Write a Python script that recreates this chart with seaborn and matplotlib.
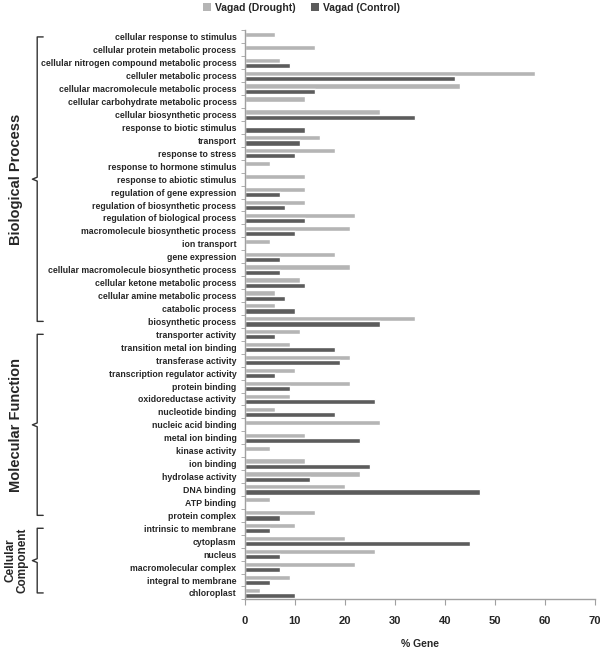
import numpy as np
import pandas as pd
import seaborn as sns
import matplotlib.pyplot as plt
import matplotlib.transforms as mtransforms
from matplotlib.patches import Patch

terms = [
    'cellular response to stimulus', 'cellular protein metabolic process',
    'cellular nitrogen compound metabolic process', 'celluler metabolic process',
    'cellular macromolecule metabolic process', 'cellular carbohydrate metabolic process',
    'cellular biosynthetic process', 'response to biotic stimulus', 'transport',
    'response to stress', 'response to hormone stimulus', 'response to abiotic stimulus',
    'regulation of gene expression', 'regulation of biosynthetic process',
    'regulation of biological process', 'macromolecule biosynthetic process',
    'ion transport', 'gene expression', 'cellular macromolecule biosynthetic process',
    'cellular ketone metabolic process', 'cellular amine metabolic process',
    'catabolic process', 'biosynthetic process',
    'transporter activity', 'transition metal ion binding', 'transferase activity',
    'transcription regulator activity', 'protein binding', 'oxidoreductase activity',
    'nucleotide binding', 'nucleic acid binding', 'metal ion binding', 'kinase activity',
    'ion binding', 'hydrolase activity', 'DNA binding', 'ATP binding', 'protein complex',
    'intrinsic to membrane', 'cytoplasm', 'nucleus', 'macromolecular complex',
    'integral to membrane', 'chloroplast',
]
drought = [6, 14, 7, 58, 43, 12, 27, 0, 15, 18, 5, 12, 12, 12, 22, 21, 5, 18, 21, 11, 6, 6, 34,
           11, 9, 21, 10, 21, 9, 6, 27, 12, 5, 12, 23, 20, 5, 14,
           10, 20, 26, 22, 9, 3]
control = [0, 0, 9, 42, 14, 0, 34, 12, 11, 10, 0, 0, 7, 8, 12, 10, 0, 7, 7, 12, 8, 10, 27,
           6, 18, 19, 6, 9, 26, 18, 0, 23, 0, 25, 13, 47, 0, 7,
           5, 45, 7, 7, 5, 10]
series = ['Vagad (Drought)', 'Vagad (Control)']
colors = ['#b5b5b5', '#5c5c5c']

# groups: (label, first row, last row)
groups = [('Biological Process', 0, 22), ('Molecular Function', 23, 37),
          ('Cellular\nComponent', 38, 43)]

df = pd.DataFrame({'term': terms * 2,
                   'value': drought + control,
                   'series': [series[0]] * len(terms) + [series[1]] * len(terms)})

sns.set_style('white')
plt.rcParams['font.family'] = ['Liberation Sans', 'DejaVu Sans']

fig = plt.figure(figsize=(6, 6.48), dpi=100)
ax = fig.add_axes([0.408, 0.075, 0.584, 0.878])

sns.barplot(data=df, x='value', y='term', hue='series', palette=colors,
            orient='h', width=0.8, ax=ax, legend=False, saturation=1)

ax.set_xlim(0, 70)
ax.set_ylim(len(terms) - 0.5, -0.5)
ax.set_xticks(range(0, 71, 10))
ax.set_ylabel('')
ax.set_xlabel('% Gene', fontsize=7.5, fontweight='bold', labelpad=9)
for lab in ax.get_xticklabels():
    lab.set_fontweight('bold')
    lab.set_fontsize(8)
for lab in ax.get_yticklabels():
    lab.set_fontweight('bold')
    lab.set_fontsize(6.3)

sns.despine(ax=ax)
for s in ['left', 'bottom']:
    ax.spines[s].set_color('#a0a0a0')
    ax.spines[s].set_linewidth(1)
ax.tick_params(axis='x', length=4, color='#a0a0a0', pad=8, bottom=True)
ax.tick_params(axis='y', which='major', length=0, pad=6)
ax.set_yticks(np.arange(-0.5, len(terms), 1), minor=True)
ax.tick_params(axis='y', which='minor', length=3, color='#a0a0a0', left=True)

# curly brackets for the GO categories
trans = mtransforms.blended_transform_factory(fig.transFigure, ax.transData)
for label, r0, r1 in groups:
    x0, xh, xm = 0.062, 0.072, 0.054
    mid = (r0 + r1) / 2
    ax.plot([xh, x0, x0, xm, x0, x0, xh],
            [r0, r0, mid - 0.15, mid, mid + 0.15, r1, r1],
            transform=trans, color='#333333', lw=1, clip_on=False)
    fs = 10.5 if '\n' not in label else 8.5
    ax.text(0.027, mid, label, transform=trans, rotation=90, ha='center', va='center',
            fontsize=fs, fontweight='bold', linespacing=1.0)

handles = [Patch(facecolor=c, edgecolor='none') for c in colors]
fig.legend(handles, series, ncol=2, loc='center', bbox_to_anchor=(0.503, 0.988),
           frameon=False, prop={'weight': 'bold', 'size': 7.5},
           handlelength=0.75, handleheight=0.75, handletextpad=0.4, columnspacing=1.5)

fig.savefig('out.png', dpi=100)
